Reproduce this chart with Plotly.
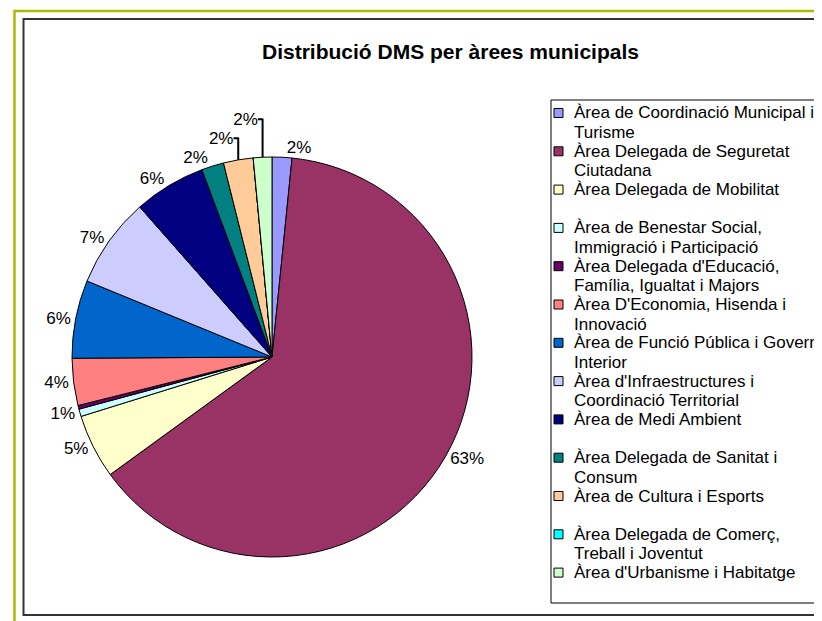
import plotly.graph_objects as go

W, H = 822, 621

areas = [
    "Àrea de Coordinació Municipal i Turisme",
    "Àrea Delegada de Seguretat Ciutadana",
    "Àrea Delegada de Mobilitat",
    "Àrea de Benestar Social, Immigració i Participació",
    "Àrea Delegada d'Educació, Família, Igualtat i Majors",
    "Àrea D'Economia, Hisenda i Innovació",
    "Àrea de Funció Pública i Govern Interior",
    "Àrea d'Infraestructures i Coordinació Territorial",
    "Àrea de Medi Ambient",
    "Àrea Delegada de Sanitat i Consum",
    "Àrea de Cultura i Esports",
    "Àrea Delegada de Comerç, Treball i Joventut",
    "Àrea d'Urbanisme i Habitatge",
]
# legend text as it wraps in the original
legend_lines = [
    ("Àrea de Coordinació Municipal i", "Turisme"),
    ("Àrea Delegada de Seguretat", "Ciutadana"),
    ("Àrea Delegada de Mobilitat", ""),
    ("Àrea de Benestar Social,", "Immigració i Participació"),
    ("Àrea Delegada d'Educació,", "Família, Igualtat i Majors"),
    ("Àrea D'Economia, Hisenda i", "Innovació"),
    ("Àrea de Funció Pública i Govern", "Interior"),
    ("Àrea d'Infraestructures i", "Coordinació Territorial"),
    ("Àrea de Medi Ambient", ""),
    ("Àrea Delegada de Sanitat i", "Consum"),
    ("Àrea de Cultura i Esports", ""),
    ("Àrea Delegada de Comerç,", "Treball i Joventut"),
    ("Àrea d'Urbanisme i Habitatge", ""),
]
shares = [1.6, 63.4, 5.2, 0.6, 0.3, 3.8, 6.3, 7.3, 5.8, 1.8, 2.4, 0.0, 1.5]
colors = ["#9999FF", "#993366", "#FFFFCC", "#CCFFFF", "#660066", "#FF8080", "#0066CC",
          "#CCCCFF", "#000080", "#008080", "#FFCC99", "#00FFFF", "#CCFFCC"]
hide_label = [False, False, False, False, True, False, False, False, False, False, False, True, False]

FONT = "Liberation Sans, Arial, sans-serif"
OFF = 8  # page body margin

def px(x):
    return (x - OFF) / W

def py(y):
    return 1 - (y - OFF) / H

# pie: centre (272, 357), radius 200 px in page pixels
cx, cy, r = 272, 357, 200

fig = go.Figure(go.Pie(
    labels=areas, values=shares, sort=False, direction="clockwise", rotation=0,
    marker=dict(colors=colors, line=dict(color="black", width=1)),
    texttemplate="%{percent:.0%}",
    textposition=["none" if h else "outside" for h in hide_label],
    textfont=dict(family=FONT, size=17, color="black"),
    domain=dict(x=[px(cx - r), px(cx + r)], y=[py(cy + r), py(cy - r)]),
    showlegend=False, hoverinfo="label+percent",
))

shapes = [
    dict(type="rect", xref="paper", yref="paper", x0=px(14.5), x1=px(850), y0=py(650), y1=py(11),
         line=dict(color="#AABB00", width=2.5)),
    dict(type="rect", xref="paper", yref="paper", x0=px(23.5), x1=px(850), y0=py(615), y1=py(19),
         line=dict(color="#333333", width=2)),
    dict(type="rect", xref="paper", yref="paper", x0=px(551), x1=px(850), y0=py(603), y1=py(100),
         line=dict(color="black", width=1), fillcolor="white"),
]
annotations = [
    dict(text="<b>Distribució DMS per àrees municipals</b>", xref="paper", yref="paper",
         x=px(451), y=py(52), showarrow=False, xanchor="center", yanchor="middle",
         font=dict(family=FONT, size=21, color="black")),
]

top, step, gap = 113, 38.3, 19.5
for i, (l1, l2) in enumerate(legend_lines):
    yc = top + i * step
    shapes.append(dict(type="rect", xref="paper", yref="paper",
                       x0=px(554), x1=px(563), y0=py(yc + 4.5), y1=py(yc - 4.5),
                       fillcolor=colors[i], line=dict(color="black", width=1)))
    for j, t in enumerate([l1, l2]):
        if t:
            annotations.append(dict(text=t, xref="paper", yref="paper", x=px(572), y=py(yc + j * gap),
                                    showarrow=False, xanchor="left", yanchor="middle",
                                    font=dict(family=FONT, size=17, color="black")))

fig.update_layout(
    width=W, height=H, margin=dict(l=0, r=0, t=0, b=0),
    paper_bgcolor="white", plot_bgcolor="white",
    shapes=shapes, annotations=annotations,
)
fig.write_html("out.html")
